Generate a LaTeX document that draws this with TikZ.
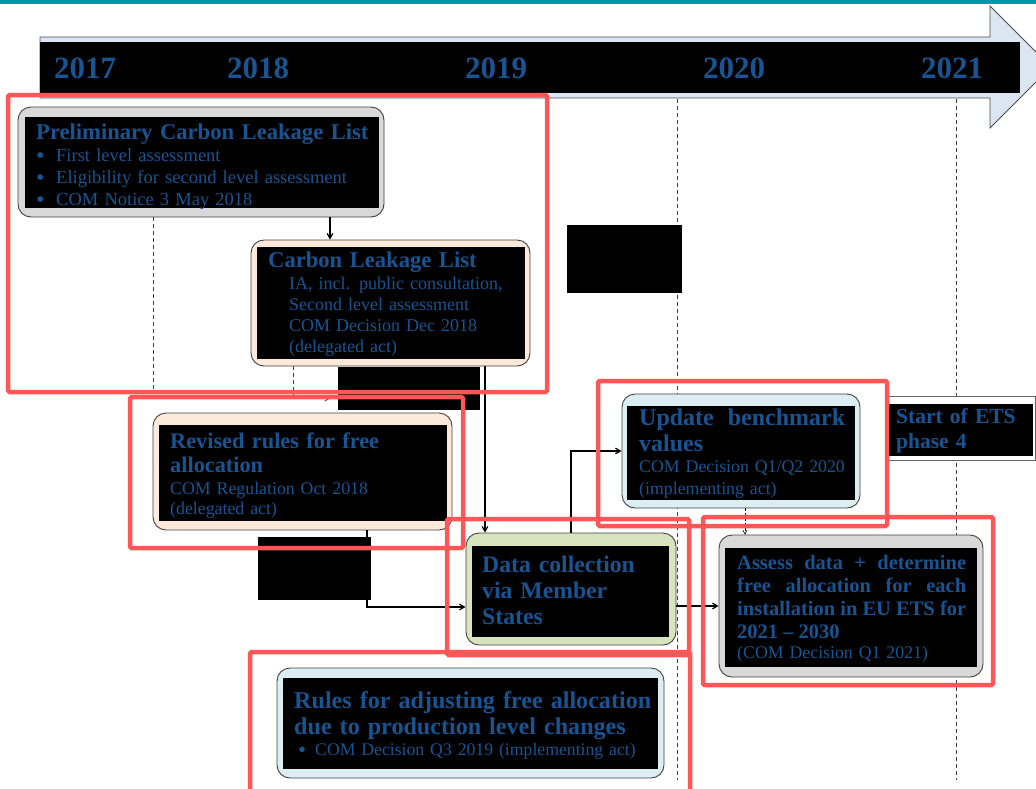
\documentclass[tikz,border=0pt]{standalone}
\usepackage{fontspec}
\setmainfont{Liberation Serif}
\usetikzlibrary{arrows}
\definecolor{tblue}{RGB}{24,84,145}
\definecolor{hired}{RGB}{255,87,87}
\definecolor{bandteal}{RGB}{0,150,170}
\definecolor{greyfill}{RGB}{217,217,217}
\definecolor{peach}{RGB}{253,234,218}
\definecolor{sage}{RGB}{215,228,189}
\definecolor{icefill}{RGB}{219,238,244}
\definecolor{arrowfill}{RGB}{220,230,242}
\newcommand{\setfs}[2]{\fontsize{#1pt}{#2pt}\selectfont}
\newcommand{\bulletbox}[1]{\makebox[#1][l]{\smash{\raisebox{-0.12em}{\scalebox{1.3}{\textbullet}}}}}
\tikzstyle{panel} = [rectangle, rounded corners=13pt, draw=black!75, line width=0.9pt, inner sep=0pt]
\tikzstyle{headtext} = [anchor=base west, inner sep=0pt, text=tblue, align=left, font=\bfseries\setfs{22.6}{26}]
\tikzstyle{subtext} = [anchor=base west, inner sep=0pt, text=tblue, align=left, font=\setfs{17.8}{22}]
\tikzstyle{yearlabel} = [anchor=base, inner sep=0pt, text=tblue, font=\bfseries\setfs{31}{31}]
\tikzstyle{conn} = [line width=1.2pt,->,>=angle 60]
\tikzstyle{tick} = [dash pattern=on 4pt off 3pt, line width=0.9pt, draw=black!75]
\tikzstyle{hilite} = [draw=hired, line width=4.5pt, rounded corners=1.5pt]
\begin{document}
\begin{tikzpicture}[x=1pt,y=-1pt]
\useasboundingbox (0,0) rectangle (1036,788);
\fill[bandteal] (0,0) rectangle (1036,4);
\draw[fill=arrowfill, draw=black!70, line width=0.8pt] (40,37) -- (990,37) -- (990,6) -- (1051,67) -- (990,128) -- (990,98) -- (40,98) -- cycle;
\fill[black] (40,42) rectangle (1020,93);
\foreach \yr/\xx in {2017/85,2018/258,2019/496,2020/734,2021/952}
  \node (yr\yr) [yearlabel] at (\xx,78) {\yr};
\foreach \xx in {677,956}
  \draw[tick] (\xx,99) -- (\xx,780);

\node (prelim) [panel, fill=greyfill, minimum width=366pt, minimum height=110pt] at (201,162) {};
\fill[black] (25,117) rectangle (379,208);
\node (prelimhd) [headtext, text width=345pt] at (36,139) {Preliminary Carbon Leakage List};
\node (prelimtx) [subtext, text width=345pt, font=\setfs{18.5}{22}] at (36,161) {\bulletbox{20pt}First level assessment\\\bulletbox{20pt}Eligibility for second level assessment\\\bulletbox{20pt}COM Notice 3 May 2018};

\node (cll) [panel, fill=peach, minimum width=279pt, minimum height=126pt] at (390.5,303) {};
\fill[black] (257,247) rectangle (525,359);
\node (cllhd) [headtext, text width=255pt] at (268,267) {Carbon Leakage List};
\node (clltx) [subtext, text width=230pt, font=\setfs{18}{21}] at (289,289) {IA, incl. public consultation,\\Second level assessment\\COM Decision Dec 2018\\(delegated act)};

\node (rev) [panel, fill=peach, minimum width=299pt, minimum height=117pt] at (302.5,471.5) {};
\fill[black] (159,425) rectangle (447,521);
\node (revhd) [headtext, text width=270pt, font=\bfseries\setfs{22.3}{24.5}] at (170,448) {Revised rules for free\\allocation};
\node (revtx) [subtext, text width=270pt, font=\setfs{17.8}{20}] at (170,494) {COM Regulation Oct 2018\\(delegated act)};

\node (data) [panel, fill=sage, minimum width=210pt, minimum height=112pt] at (571,589) {};
\fill[black] (472,546) rectangle (669,637);
\node (datahd) [headtext, text width=185pt, font=\bfseries\setfs{23.7}{26}] at (482,572) {Data collection\\via Member\\States};

\node (upd) [panel, fill=icefill, minimum width=238pt, minimum height=114pt] at (741,451) {};
\fill[black] (627,406) rectangle (855,500);
\node (updhd) [headtext, text width=206pt, align=justify, font=\bfseries\setfs{24}{26}] at (639,425) {Update benchmark\linebreak values};
\node (updtx) [subtext, text width=210pt] at (639,472) {COM Decision Q1/Q2 2020\\(implementing act)};

\node (start) [rectangle, draw=black!60, fill=white, line width=0.8pt, minimum width=147pt, minimum height=64pt] at (961.5,428) {};
\fill[black] (889,404) rectangle (1033,456);
\node (starthd) [headtext, text width=140pt, font=\bfseries\setfs{21.5}{25}] at (896,423) {Start of ETS\\phase 4};

\node (assess) [panel, fill=greyfill, minimum width=264pt, minimum height=142pt] at (851,606) {};
\fill[black] (725,548) rectangle (977,667);
\node (assesshd) [headtext, text width=229pt, align=justify, font=\bfseries\setfs{20.5}{23}] at (737,569) {Assess data + determine\linebreak free allocation for each\linebreak installation in EU ETS for\linebreak 2021 -- 2030};
\node (assesstx) [subtext, text width=229pt] at (737,658) {(COM Decision Q1 2021)};

\node (rules) [panel, fill=icefill, minimum width=387pt, minimum height=110pt] at (470.5,723) {};
\fill[black] (283,678) rectangle (658,769);
\node (ruleshd) [headtext, text width=360pt, font=\bfseries\setfs{24.1}{26}] at (294,708) {Rules for adjusting free allocation\\due to production level changes};
\node (rulestx) [subtext, text width=360pt, font=\setfs{17.7}{21}] at (298,755) {\bulletbox{17pt}COM Decision Q3 2019 (implementing act)};

\draw[conn] ([xshift=129pt]prelim.south) -- ([xshift=-60.5pt]cll.north);
\draw[conn] ([xshift=94.5pt]cll.south) -- ([xshift=94.5pt]cll.south |- data.north);
\draw[conn] ([xshift=64.5pt]rev.south) |- ([yshift=-18pt]data.west);
\draw[conn] (data.north) |- (upd.west);
\draw[conn] (data.east |- assess.west) -- (assess.west);
\draw[->, >=angle 60, densely dashed, line width=0.6pt] ([xshift=4pt]upd.south) -- ([xshift=4pt]upd.south |- assess.north);
\draw[tick] ([xshift=-48pt]prelim.south) -- ++(0,174);
\draw[tick, ->, >=angle 60] ([xshift=-97.5pt]cll.south) |- ++(37,32);

\fill[black] (567,225) rectangle (682,293);
\fill[black] (338,367) rectangle (480,410);
\fill[black] (258,537) rectangle (371,600);

\foreach \ax/\ay/\bx/\by in {8/95/547/392, 130/397/463/548, 447/519/689/655, 598/381/887/526, 703/517/993/685, 250/652/690/795}
  \draw[hilite] (\ax,\ay) rectangle (\bx,\by);
\end{tikzpicture}
\end{document}
